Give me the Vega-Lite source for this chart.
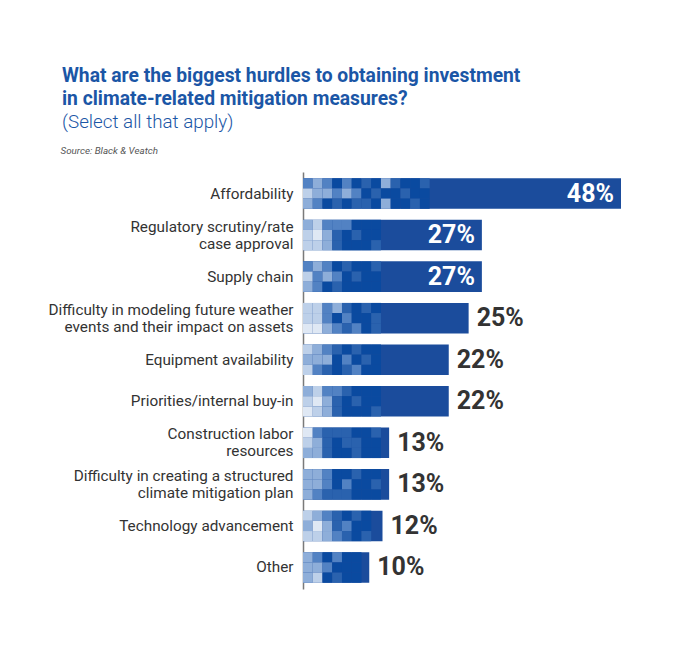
{
  "$schema": "https://vega.github.io/schema/vega-lite/v6.json",
  "width": 331.25,
  "height": 417,
  "autosize": {"type": "none"},
  "padding": {"left": 303, "top": 172, "right": 46.75, "bottom": 61},
  "background": "white",
  "title": {
    "text": ["What are the biggest hurdles to obtaining investment", "in climate-related mitigation measures?"],
    "subtitle": "(Select all that apply)",
    "anchor": "start",
    "frame": "group",
    "dx": -241,
    "offset": 13,
    "font": "Roboto",
    "fontSize": 19.3,
    "fontWeight": "bold",
    "lineHeight": 23,
    "color": "#1b56a6",
    "subtitleFont": "Roboto",
    "subtitleFontSize": 18.8,
    "subtitleColor": "#1b56a6",
    "subtitleFontWeight": 300,
    "subtitlePadding": 4
  },
  "datasets": {
    "bars": [
      {"item": "Affordability", "pct": 0.48},
      {"item": "Regulatory scrutiny/rate\ncase approval", "pct": 0.27},
      {"item": "Supply chain", "pct": 0.27},
      {"item": "Difficulty in modeling future weather\nevents and their impact on assets", "pct": 0.25},
      {"item": "Equipment availability", "pct": 0.22},
      {"item": "Priorities/internal buy-in", "pct": 0.22},
      {"item": "Construction labor\nresources", "pct": 0.13},
      {"item": "Difficulty in creating a structured\nclimate mitigation plan", "pct": 0.13},
      {"item": "Technology advancement", "pct": 0.12},
      {"item": "Other", "pct": 0.10}
    ],
    "tiles": [
      {"item": "Affordability", "row": 0, "shade": [3, 2, 3, 5, 3, 5, 4, 5, 2, 4, 5, 5, 4]},
      {"item": "Affordability", "row": 1, "shade": [1, 2, 2, 3, 2, 3, 5, 4, 5, 5, 4, 5, 5]},
      {"item": "Affordability", "row": 2, "shade": [2, 3, 5, 4, 5, 4, 4, 5, 2, 5, 5, 4, 5]},
      {"item": "Regulatory scrutiny/rate\ncase approval", "row": 0, "shade": [2, 1, 3, 3, 3, 5, 5, 5]},
      {"item": "Regulatory scrutiny/rate\ncase approval", "row": 1, "shade": [1, 0, 2, 4, 5, 4, 5, 5]},
      {"item": "Regulatory scrutiny/rate\ncase approval", "row": 2, "shade": [1, 1, 2, 4, 5, 5, 5, 4]},
      {"item": "Supply chain", "row": 0, "shade": [3, 2, 3, 5, 4, 5, 5, 4]},
      {"item": "Supply chain", "row": 1, "shade": [1, 3, 2, 3, 5, 4, 5, 5]},
      {"item": "Supply chain", "row": 2, "shade": [2, 3, 5, 4, 5, 5, 5, 5]},
      {"item": "Difficulty in modeling future weather\nevents and their impact on assets", "row": 0, "shade": [1, 1, 3, 2, 4, 5, 4, 5]},
      {"item": "Difficulty in modeling future weather\nevents and their impact on assets", "row": 1, "shade": [1, 1, 3, 5, 3, 5, 5, 4]},
      {"item": "Difficulty in modeling future weather\nevents and their impact on assets", "row": 2, "shade": [0, 0, 2, 3, 4, 3, 5, 4]},
      {"item": "Equipment availability", "row": 0, "shade": [1, 2, 3, 4, 5, 4, 5, 5]},
      {"item": "Equipment availability", "row": 1, "shade": [2, 2, 2, 5, 3, 5, 4, 5]},
      {"item": "Equipment availability", "row": 2, "shade": [1, 3, 4, 5, 4, 3, 5, 5]},
      {"item": "Priorities/internal buy-in", "row": 0, "shade": [2, 1, 3, 3, 4, 5, 5, 5]},
      {"item": "Priorities/internal buy-in", "row": 1, "shade": [1, 0, 2, 4, 5, 4, 5, 5]},
      {"item": "Priorities/internal buy-in", "row": 2, "shade": [0, 1, 2, 4, 5, 5, 5, 4]},
      {"item": "Construction labor\nresources", "row": 0, "shade": [0, 3, 4, 4, 4, 5, 5, 4]},
      {"item": "Construction labor\nresources", "row": 1, "shade": [1, 2, 4, 5, 4, 4, 5, 5]},
      {"item": "Construction labor\nresources", "row": 2, "shade": [2, 2, 4, 5, 5, 4, 5, 5]},
      {"item": "Difficulty in creating a structured\nclimate mitigation plan", "row": 0, "shade": [2, 2, 3, 5, 5, 4, 5, 5]},
      {"item": "Difficulty in creating a structured\nclimate mitigation plan", "row": 1, "shade": [2, 2, 3, 5, 3, 5, 5, 4]},
      {"item": "Difficulty in creating a structured\nclimate mitigation plan", "row": 2, "shade": [2, 3, 4, 4, 4, 5, 5, 5]},
      {"item": "Technology advancement", "row": 0, "shade": [1, 2, 3, 4, 5, 4, 5]},
      {"item": "Technology advancement", "row": 1, "shade": [2, 0, 2, 4, 3, 5, 5]},
      {"item": "Technology advancement", "row": 2, "shade": [1, 1, 2, 3, 4, 5, 4]},
      {"item": "Other", "row": 0, "shade": [2, 3, 5, 3, 5, 5]},
      {"item": "Other", "row": 1, "shade": [2, 2, 3, 5, 5, 5]},
      {"item": "Other", "row": 2, "shade": [2, 1, 5, 4, 5, 5]}
    ]
  },
  "encoding": {
    "y": {
      "field": "item",
      "type": "nominal",
      "sort": null,
      "scale": {"paddingInner": 0.265, "paddingOuter": 0.15},
      "title": "Source: Black & Veatch",
      "axis": {
        "labelExpr": "split(datum.label, '\\n')",
        "labelOffset": {"condition": {"test": "indexof(datum.label, '\\n') >= 0", "value": -8.5}, "value": 0},
        "labelFont": "Roboto",
        "labelFontSize": 15.3,
        "labelColor": "#333333",
        "labelLineHeight": 17,
        "labelPadding": 10,
        "labelLimit": 400,
        "ticks": false,
        "domainColor": "#7a7a7a",
        "domainWidth": 1.5,
        "titleFont": "Roboto",
        "titleFontSize": 9.8,
        "titleFontStyle": "italic",
        "titleFontWeight": "normal",
        "titleColor": "#555555",
        "titleAngle": 0,
        "titleAlign": "left",
        "titleBaseline": "middle",
        "titleX": -243,
        "titleY": -22
      }
    }
  },
  "layer": [
    {
      "data": {"name": "bars"},
      "mark": {"type": "bar", "color": "#1b4c9c"},
      "encoding": {
        "x": {"field": "pct", "type": "quantitative", "scale": {"domain": [0, 0.5]}, "axis": null}
      }
    },
    {
      "data": {"name": "tiles"},
      "transform": [
        {"flatten": ["shade"]},
        {"window": [{"op": "row_number", "as": "col"}], "groupby": ["item", "row"]}
      ],
      "mark": {"type": "rect"},
      "encoding": {
        "x": {
          "field": "col",
          "type": "ordinal",
          "scale": {
            "domain": [1, 2, 3, 4, 5, 6, 7, 8, 9, 10, 11, 12, 13, 14, 15, 16, 17, 18, 19, 20, 21, 22, 23, 24, 25, 26, 27, 28, 29, 30, 31, 32, 33, 34],
            "range": [0, 331.25],
            "paddingInner": 0,
            "paddingOuter": 0
          },
          "axis": null
        },
        "yOffset": {"field": "row", "type": "nominal", "scale": {"paddingInner": 0, "paddingOuter": 0}},
        "color": {
          "field": "shade",
          "type": "ordinal",
          "scale": {"domain": [0, 1, 2, 3, 4, 5], "range": ["#dfe8f4", "#bdd0e9", "#8eaed9", "#5282c3", "#2a62ae", "#0a4aa0"]},
          "legend": null
        }
      }
    },
    {
      "data": {"name": "bars"},
      "transform": [{"filter": "datum.pct >= 0.27"}],
      "mark": {"type": "text", "align": "right", "dx": -7, "font": "Roboto", "fontSize": 25, "fontWeight": "bold", "color": "white"},
      "encoding": {
        "x": {"field": "pct", "type": "quantitative", "scale": {"domain": [0, 0.5]}, "axis": null},
        "text": {"field": "pct", "type": "quantitative", "format": ".0%"}
      }
    },
    {
      "data": {"name": "bars"},
      "transform": [{"filter": "datum.pct < 0.27"}],
      "mark": {"type": "text", "align": "left", "dx": 8, "font": "Roboto", "fontSize": 25, "fontWeight": "bold", "color": "#333333"},
      "encoding": {
        "x": {"field": "pct", "type": "quantitative", "scale": {"domain": [0, 0.5]}, "axis": null},
        "text": {"field": "pct", "type": "quantitative", "format": ".0%"}
      }
    }
  ],
  "resolve": {"scale": {"x": "independent"}},
  "config": {"view": {"stroke": null}}
}
